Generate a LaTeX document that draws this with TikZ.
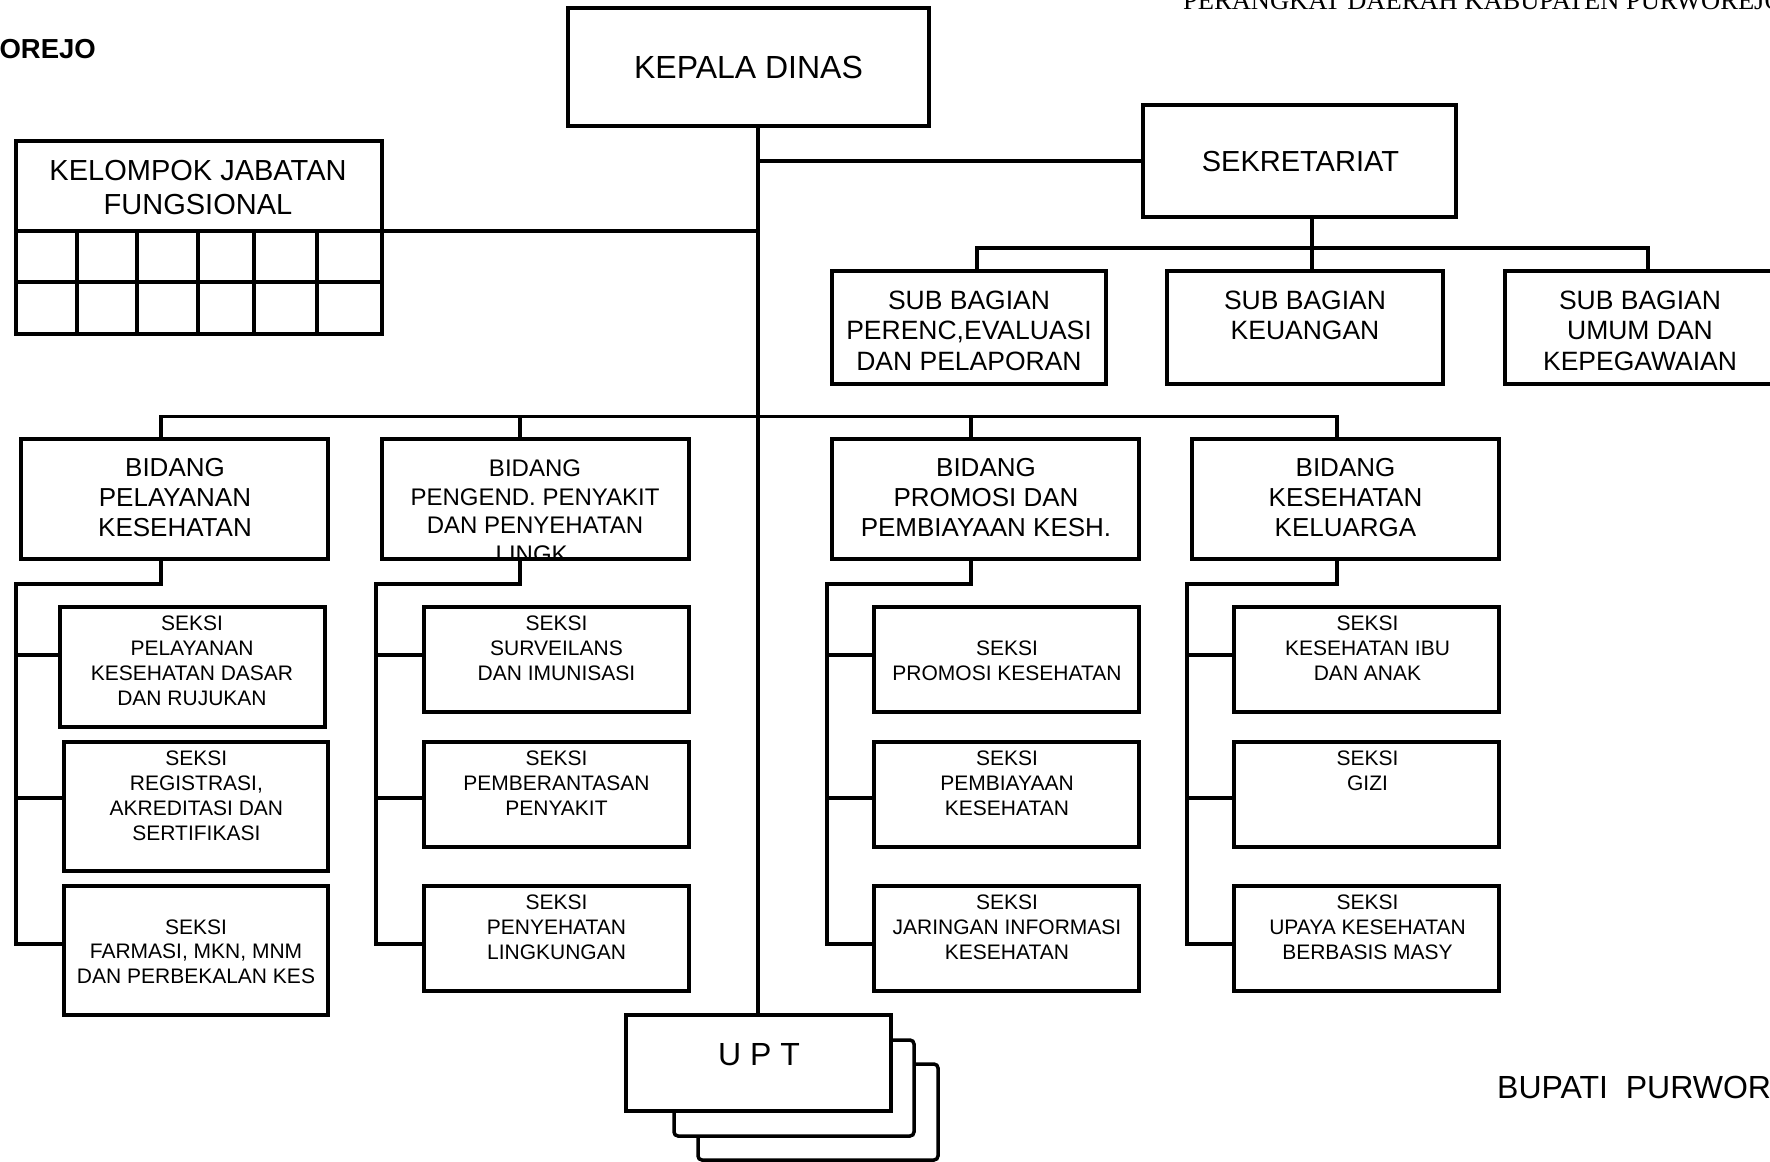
\documentclass[tikz,border=0pt]{standalone}
\usepackage{fontspec}
\setmainfont{Liberation Sans}
\newfontfamily\serifhdr{Liberation Serif}
\newcommand{\setfs}[2]{\fontsize{#1}{#2}\selectfont}
\newcommand{\orgbox}[6][]{\node[bx,#1, minimum width={#4-#2}, minimum height={#5-#3}] (#6) at ({(#2+#4)/2},{(#3+#5)/2}) {};}
\begin{document}
\begin{tikzpicture}[x=1pt,y=-1pt,
  bx/.style={draw, line width=3.5pt, inner sep=0pt, fill=white},
  ln/.style={line width=3.5pt},
  tx/.style={align=center, inner sep=0pt},
  seks/.style={tx, font=\setfs{21}{24.8}},
  bid/.style={tx, font=\setfs{26}{30}},
  subb/.style={tx, font=\setfs{26.5}{30.5}}]
\useasboundingbox (0,0) rectangle (1770,1162);
\clip (0,0) rectangle (1770,1162);

% ---------- header texts
\node[anchor=base west, inner sep=0pt, font=\serifhdr\setfs{26.5}{30}] (hdr) at (1183,9) {PERANGKAT DAERAH KABUPATEN PURWOREJO};
\node[anchor=base east, inner sep=0pt, font=\bfseries\setfs{27.5}{32}] (kab) at (96,58.5) {OREJO};
\node[anchor=base west, inner sep=0pt, font=\setfs{32}{36}] (bup) at (1497,1098) {BUPATI\ \ PURWOR};

% ---------- helper coordinates
\coordinate (spine) at (758,0);
\coordinate (sbus) at (0,248);
\coordinate (bbus) at (0,416.5);
\coordinate (yA) at (0,584);
\coordinate (y1) at (0,655);
\coordinate (y2) at (0,798);
\coordinate (y3) at (0,944);
\coordinate (sekx) at (1312,0);
\coordinate (d1) at (977,0);
\coordinate (d3) at (1648,0);
\coordinate (b1x) at (161,0);
\coordinate (b2x) at (520,0);
\coordinate (b3x) at (971,0);
\coordinate (b4x) at (1337,0);
\coordinate (L1) at (16,0);
\coordinate (L2) at (376,0);
\coordinate (L3) at (827,0);
\coordinate (L4) at (1187,0);
\coordinate (kjfc) at (382,231);

% ---------- top boxes
\orgbox{568}{8}{929}{126}{kd}
\orgbox{1143}{105}{1456}{217}{sek}
\orgbox{832}{271}{1106}{384}{sb1}
\orgbox{1167}{271}{1443}{384}{sb2}
\orgbox{1505}{271}{1780}{384}{sb3}
\orgbox{16}{141}{382}{334}{kjf}
\draw[ln] (16,231) -- (382,231);
\draw[ln] (16,282) -- (382,282);
\foreach \gx in {77,137,198,254,317} \draw[ln] (\gx,231) -- (\gx,334);

% ---------- bidang
\orgbox{21}{439}{328}{559}{bd1}
\orgbox{382}{439}{689}{559}{bd2}
\orgbox{832}{439}{1139}{559}{bd3}
\orgbox{1192}{439}{1499}{559}{bd4}

% ---------- seksi
\orgbox{60}{607}{325}{727}{s11}
\orgbox{64}{742}{328}{871}{s12}
\orgbox{64}{886}{328}{1015}{s13}
\orgbox{424}{607}{689}{712}{s21}
\orgbox{424}{742}{689}{847}{s22}
\orgbox{424}{886}{689}{991}{s23}
\orgbox{874}{607}{1139}{712}{s31}
\orgbox{874}{742}{1139}{847}{s32}
\orgbox{874}{886}{1139}{991}{s33}
\orgbox{1234}{607}{1499}{712}{s41}
\orgbox{1234}{742}{1499}{847}{s42}
\orgbox{1234}{886}{1499}{991}{s43}

% ---------- UPT stack
\orgbox[rounded corners=4pt]{698}{1064}{938}{1160}{u3}
\orgbox[rounded corners=4pt]{674}{1040}{914}{1136}{u2}
\orgbox{626}{1015}{891}{1111}{u1}

% ---------- connectors
\draw[ln] (kd.south -| spine) -- (u1.north -| spine);
\draw[ln] (sek.west) -- (sek.west -| spine);
\draw[ln] (kjfc) -- (kjfc -| spine);
\draw[ln] (sekx |- sek.south) -- (sekx |- sb2.north);
\draw[ln] (d1 |- sb1.north) -- (d1 |- sbus) -- (d3 |- sbus) -- (d3 |- sb3.north);
\draw[ln] (b1x |- bd1.north) -- (b1x |- bbus) -- (b4x |- bbus) -- (b4x |- bd4.north);
\draw[ln] (b2x |- bbus) -- (b2x |- bd2.north);
\draw[ln] (b3x |- bbus) -- (b3x |- bd3.north);

\draw[ln] (b1x |- bd1.south) -- (b1x |- yA) -- (L1 |- yA) -- (L1 |- y3) -- (s13.west |- y3);
\draw[ln] (L1 |- y1) -- (s11.west |- y1);
\draw[ln] (L1 |- y2) -- (s12.west |- y2);
\draw[ln] (b2x |- bd2.south) -- (b2x |- yA) -- (L2 |- yA) -- (L2 |- y3) -- (s23.west |- y3);
\draw[ln] (L2 |- y1) -- (s21.west |- y1);
\draw[ln] (L2 |- y2) -- (s22.west |- y2);
\draw[ln] (b3x |- bd3.south) -- (b3x |- yA) -- (L3 |- yA) -- (L3 |- y3) -- (s33.west |- y3);
\draw[ln] (L3 |- y1) -- (s31.west |- y1);
\draw[ln] (L3 |- y2) -- (s32.west |- y2);
\draw[ln] (b4x |- bd4.south) -- (b4x |- yA) -- (L4 |- yA) -- (L4 |- y3) -- (s43.west |- y3);
\draw[ln] (L4 |- y1) -- (s41.west |- y1);
\draw[ln] (L4 |- y2) -- (s42.west |- y2);

% ---------- texts
\node[tx, font=\setfs{32}{36}] (tkd) at (748.5,67.7) {KEPALA DINAS};
\node[tx, font=\setfs{29}{34}] (tsek) at (1300.4,161.4) {SEKRETARIAT};
\node[subb] (tsb1) at (969,330.7) {SUB BAGIAN\\PERENC,EVALUASI\\DAN PELAPORAN};
\node[subb] (tsb2) at (1305,315.5) {SUB BAGIAN\\KEUANGAN};
\node[subb] (tsb3) at (1640,330.7) {SUB BAGIAN\\UMUM DAN\\KEPEGAWAIAN};
\node[tx, font=\setfs{29}{34}] (tkjf) at (198,187.4) {KELOMPOK JABATAN\\FUNGSIONAL};

\node[bid] (tbd1) at (175,497.4) {BIDANG\\PELAYANAN\\KESEHATAN};
\begin{scope}
\clip (382,439) rectangle (689,557.2);
\node[tx, font=\setfs{24}{28.5}] (tbd2) at (535,511) {BIDANG\\PENGEND. PENYAKIT\\DAN PENYEHATAN\\LINGK.};
\end{scope}
\node[bid] (tbd3) at (986,497.4) {BIDANG\\PROMOSI DAN\\PEMBIAYAAN KESH.};
\node[bid] (tbd4) at (1345.5,497.4) {BIDANG\\KESEHATAN\\KELUARGA};

\node[seks] (ts11) at (192,660.6) {SEKSI\\PELAYANAN\\KESEHATAN DASAR\\DAN RUJUKAN};
\node[seks] (ts12) at (196.4,795.8) {SEKSI\\REGISTRASI,\\AKREDITASI DAN\\SERTIFIKASI};
\node[seks] (ts13) at (196,951.6) {SEKSI\\FARMASI, MKN, MNM\\DAN PERBEKALAN KES};
\node[seks] (ts21) at (556.5,648.3) {SEKSI\\SURVEILANS\\DAN IMUNISASI};
\node[seks] (ts22) at (556.5,783.4) {SEKSI\\PEMBERANTASAN\\PENYAKIT};
\node[seks] (ts23) at (556.5,927.5) {SEKSI\\PENYEHATAN\\LINGKUNGAN};
\node[seks] (ts31) at (1007,660.9) {SEKSI\\PROMOSI KESEHATAN};
\node[seks] (ts32) at (1007,783.4) {SEKSI\\PEMBIAYAAN\\KESEHATAN};
\node[seks] (ts33) at (1007,927.5) {SEKSI\\JARINGAN INFORMASI\\KESEHATAN};
\node[seks] (ts41) at (1367.5,648.3) {SEKSI\\KESEHATAN IBU\\DAN ANAK};
\node[seks] (ts42) at (1367.5,771) {SEKSI\\GIZI};
\node[seks] (ts43) at (1367.5,927.5) {SEKSI\\UPAYA KESEHATAN\\BERBASIS MASY};

\node[tx, font=\setfs{32}{36}] (tupt) at (759,1055) {U P T};
\end{tikzpicture}
\end{document}
